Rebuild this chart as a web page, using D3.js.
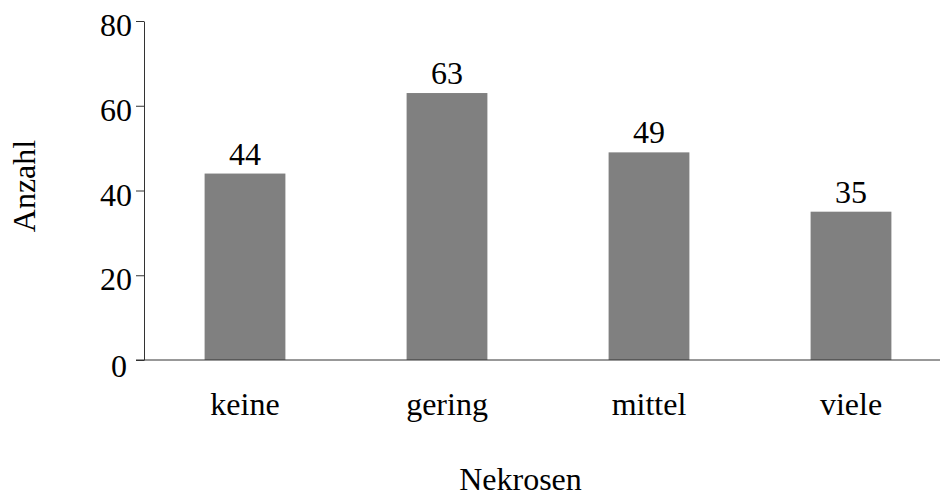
<!DOCTYPE html>
<html>
<head>
<meta charset="utf-8">
<script src="https://cdn.jsdelivr.net/npm/d3@7"></script>
<style>
  html, body { margin: 0; padding: 0; background: #fff; }
  svg { display: block; }
  text { font-family: "Liberation Serif", "Times New Roman", serif; fill: #000; }
</style>
</head>
<body>
<svg id="chart" width="940" height="494"></svg>
<script>
const categories = ["keine", "gering", "mittel", "viele"];
const counts = [44, 63, 49, 35];
const yTicks = [0, 20, 40, 60, 80];
const xTitle = "Nekrosen";
const yTitle = "Anzahl";

const W = 940, H = 494;
const m = { left: 144, top: 21, bottom: 360, right: 952 };
const fs = 32;

const svg = d3.select("#chart");

const x = d3.scaleBand()
  .domain(categories)
  .range([m.left, m.right])
  .paddingInner(0.6)
  .paddingOuter(0.3);

const y = d3.scaleLinear()
  .domain([0, 80])
  .range([m.bottom, m.top]);

// bars
svg.append("g").selectAll("rect")
  .data(categories.map((c, i) => ({ c, v: counts[i] })))
  .join("rect")
  .attr("x", d => x(d.c))
  .attr("y", d => y(d.v))
  .attr("width", x.bandwidth())
  .attr("height", d => y(0) - y(d.v))
  .attr("fill", "#808080");

// value labels
svg.append("g").selectAll("text")
  .data(categories.map((c, i) => ({ c, v: counts[i] })))
  .join("text")
  .attr("x", d => x(d.c) + x.bandwidth() / 2)
  .attr("y", d => y(d.v) - 9)
  .attr("text-anchor", "middle")
  .style("font-size", fs + "px")
  .text(d => d.v);

// y axis
const yAxis = d3.axisLeft(y)
  .tickValues(yTicks)
  .tickSize(8)
  .tickSizeOuter(0)
  .tickPadding(4);

const gy = svg.append("g")
  .attr("transform", `translate(${m.left},0)`)
  .call(yAxis);
gy.select(".domain").attr("stroke", "#333");
gy.selectAll(".tick line").attr("stroke", "#333");
gy.selectAll(".tick text")
  .attr("dy", "0.46em")
  .style("font-size", fs + "px")
  .style("font-family", '"Liberation Serif", "Times New Roman", serif')
  .attr("fill", "#000");
gy.selectAll(".tick").filter(d => d === 0).select("text")
  .attr("dx", -5).attr("dy", "0.52em");

// x axis baseline
svg.append("line")
  .attr("x1", m.left - 8)
  .attr("x2", W)
  .attr("y1", y(0))
  .attr("y2", y(0))
  .attr("stroke", "#333");

// x category labels
const xAxis = d3.axisBottom(x).tickSize(0).tickPadding(0);
const gx = svg.append("g")
  .attr("transform", `translate(0,${y(0)})`)
  .call(xAxis);
gx.select(".domain").remove();
gx.selectAll(".tick text")
  .attr("y", 55)
  .attr("dy", 0)
  .style("font-size", fs + "px")
  .style("font-family", '"Liberation Serif", "Times New Roman", serif')
  .attr("fill", "#000");

// titles
svg.append("text")
  .attr("x", 520.5)
  .attr("y", 490)
  .attr("text-anchor", "middle")
  .style("font-size", fs + "px")
  .text(xTitle);

svg.append("text")
  .attr("transform", "translate(35,186) rotate(-90)")
  .attr("text-anchor", "middle")
  .style("font-size", fs + "px")
  .text(yTitle);
</script>
</body>
</html>
